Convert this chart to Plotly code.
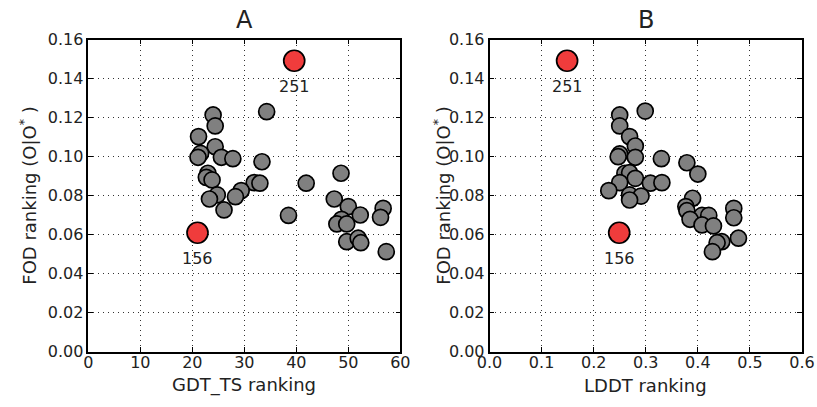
import plotly.graph_objects as go

# Panel A: GDT_TS ranking vs FOD ranking
gdt_x = [34.3, 24.0, 24.4, 21.2, 24.4, 21.6, 21.1, 25.6, 27.8, 33.4,
         23.0, 22.7, 23.8, 31.9, 33.0, 41.9, 48.6, 29.4, 24.8, 23.3,
         28.3, 26.1, 38.5, 47.3, 50.0, 52.3, 56.7, 56.2, 48.7, 47.8,
         49.7, 49.7, 51.9, 52.4, 57.3]
gdt_y = [0.1231, 0.1214, 0.1158, 0.1103, 0.1051, 0.1017, 0.0997, 0.0997, 0.0990, 0.0974,
         0.0915, 0.0894, 0.0881, 0.0867, 0.0864, 0.0864, 0.0915, 0.0826, 0.0804, 0.0783,
         0.0795, 0.0727, 0.0699, 0.0783, 0.0744, 0.0701, 0.0735, 0.0689, 0.0679, 0.0655,
         0.0655, 0.0564, 0.0582, 0.0559, 0.0513]

# Panel B: LDDT ranking vs FOD ranking
lddt_x = [0.299, 0.250, 0.250, 0.269, 0.280, 0.250, 0.247, 0.280, 0.330, 0.379,
          0.400, 0.260, 0.269, 0.280, 0.250, 0.309, 0.331, 0.229, 0.269, 0.291,
          0.269, 0.390, 0.377, 0.379, 0.408, 0.421, 0.385, 0.408, 0.430, 0.469,
          0.469, 0.478, 0.446, 0.437, 0.428]
lddt_y = [0.1234, 0.1214, 0.1158, 0.1103, 0.1055, 0.1014, 0.1000, 0.0997, 0.0990, 0.0969,
          0.0911, 0.0915, 0.0918, 0.0889, 0.0867, 0.0864, 0.0867, 0.0826, 0.0804, 0.0798,
          0.0778, 0.0787, 0.0744, 0.0723, 0.0699, 0.0699, 0.0679, 0.0650, 0.0645, 0.0735,
          0.0687, 0.0582, 0.0564, 0.0559, 0.0513]

# Highlighted models
hl_labels = ["251", "156"]
hl_gdt_x = [39.6, 21.0]
hl_lddt_x = [0.149, 0.249]
hl_y = [0.1492, 0.0610]

x_ticks_a = [0, 10, 20, 30, 40, 50, 60]
x_ticks_b = [0.0, 0.1, 0.2, 0.3, 0.4, 0.5, 0.6]
y_ticks = [0.00, 0.02, 0.04, 0.06, 0.08, 0.10, 0.12, 0.14, 0.16]

FONT = "DejaVu Sans"
GRAY = "#808080"
RED = "#f03c3c"
TXT = "#222222"

fig = go.Figure()

gray_marker = dict(size=16, color=GRAY, line=dict(color="black", width=1.7))
red_marker = dict(size=21, color=RED, line=dict(color="black", width=1.7))

fig.add_trace(go.Scatter(x=gdt_x, y=gdt_y, mode="markers", marker=gray_marker,
                         xaxis="x", yaxis="y", showlegend=False))
fig.add_trace(go.Scatter(x=hl_gdt_x, y=hl_y, mode="markers", marker=red_marker,
                         xaxis="x", yaxis="y", showlegend=False))
fig.add_trace(go.Scatter(x=lddt_x, y=lddt_y, mode="markers", marker=gray_marker,
                         xaxis="x2", yaxis="y2", showlegend=False))
fig.add_trace(go.Scatter(x=hl_lddt_x, y=hl_y, mode="markers", marker=red_marker,
                         xaxis="x2", yaxis="y2", showlegend=False))

W, H = 817, 407
ya_dom = [(H - 351.7) / H, (H - 39.7) / H]
xa_dom = [88.3 / W, 400.3 / W]
xb_dom = [489.5 / W, 802.0 / W]

axis_common = dict(
    showline=True, linecolor="black", linewidth=1.5, mirror="allticks",
    ticks="inside", ticklen=5, tickwidth=1, tickcolor="black",
    showgrid=True, gridcolor="#333333", gridwidth=1, griddash="1px,4px",
    zeroline=False, automargin=False,
    tickfont=dict(family=FONT, size=16, color=TXT),
)
xaxis_extra = dict(ticklabelstandoff=-5)

fig.update_layout(
    width=W, height=H,
    margin=dict(l=0, r=0, t=0, b=0, autoexpand=False),
    paper_bgcolor="white", plot_bgcolor="white",
    font=dict(family=FONT, color=TXT),
    xaxis=dict(domain=xa_dom, range=[0, 60], tickvals=x_ticks_a,
               ticktext=[str(v) for v in x_ticks_a], anchor="y", **axis_common, **xaxis_extra),
    yaxis=dict(domain=ya_dom, range=[0, 0.16], tickvals=y_ticks,
               tickformat=".2f", anchor="x", **axis_common),
    xaxis2=dict(domain=xb_dom, range=[0, 0.6], tickvals=x_ticks_b,
                tickformat=".1f", anchor="y2", **axis_common, **xaxis_extra),
    yaxis2=dict(domain=ya_dom, range=[0, 0.16], tickvals=y_ticks,
                tickformat=".2f", anchor="x2", **axis_common),
)

ann = []
# Panel titles
for t, dom in [("A", xa_dom), ("B", xb_dom)]:
    ann.append(dict(text=t, x=(dom[0] + dom[1]) / 2, y=1 - 20 / H, xref="paper", yref="paper",
                    showarrow=False, font=dict(family=FONT, size=24, color=TXT),
                    xanchor="center", yanchor="middle"))
# X axis titles
for t, dom in [("GDT_TS ranking", xa_dom), ("LDDT ranking", xb_dom)]:
    ann.append(dict(text=t, x=(dom[0] + dom[1]) / 2, y=1 - 385 / H,
                    xref="paper", yref="paper", showarrow=False,
                    font=dict(family=FONT, size=18, color=TXT), xanchor="center", yanchor="middle"))
# Y axis titles
for xc in [28, 442]:
    ann.append(dict(text="FOD ranking (O|O<sup>*</sup> )", x=xc / W, y=(ya_dom[0] + ya_dom[1]) / 2,
                    xref="paper", yref="paper", showarrow=False, textangle=-90,
                    font=dict(family=FONT, size=18, color=TXT),
                    xanchor="center", yanchor="middle"))
# Highlight labels
for lab, xa, xb, yv in zip(hl_labels, hl_gdt_x, hl_lddt_x, hl_y):
    ann.append(dict(text=lab, x=xa, y=yv, xref="x", yref="y", showarrow=False, yshift=-26,
                    font=dict(family=FONT, size=16, color=TXT)))
    ann.append(dict(text=lab, x=xb, y=yv, xref="x2", yref="y2", showarrow=False, yshift=-26,
                    font=dict(family=FONT, size=16, color=TXT)))

fig.update_layout(annotations=ann)

fig.write_html("out.html")
